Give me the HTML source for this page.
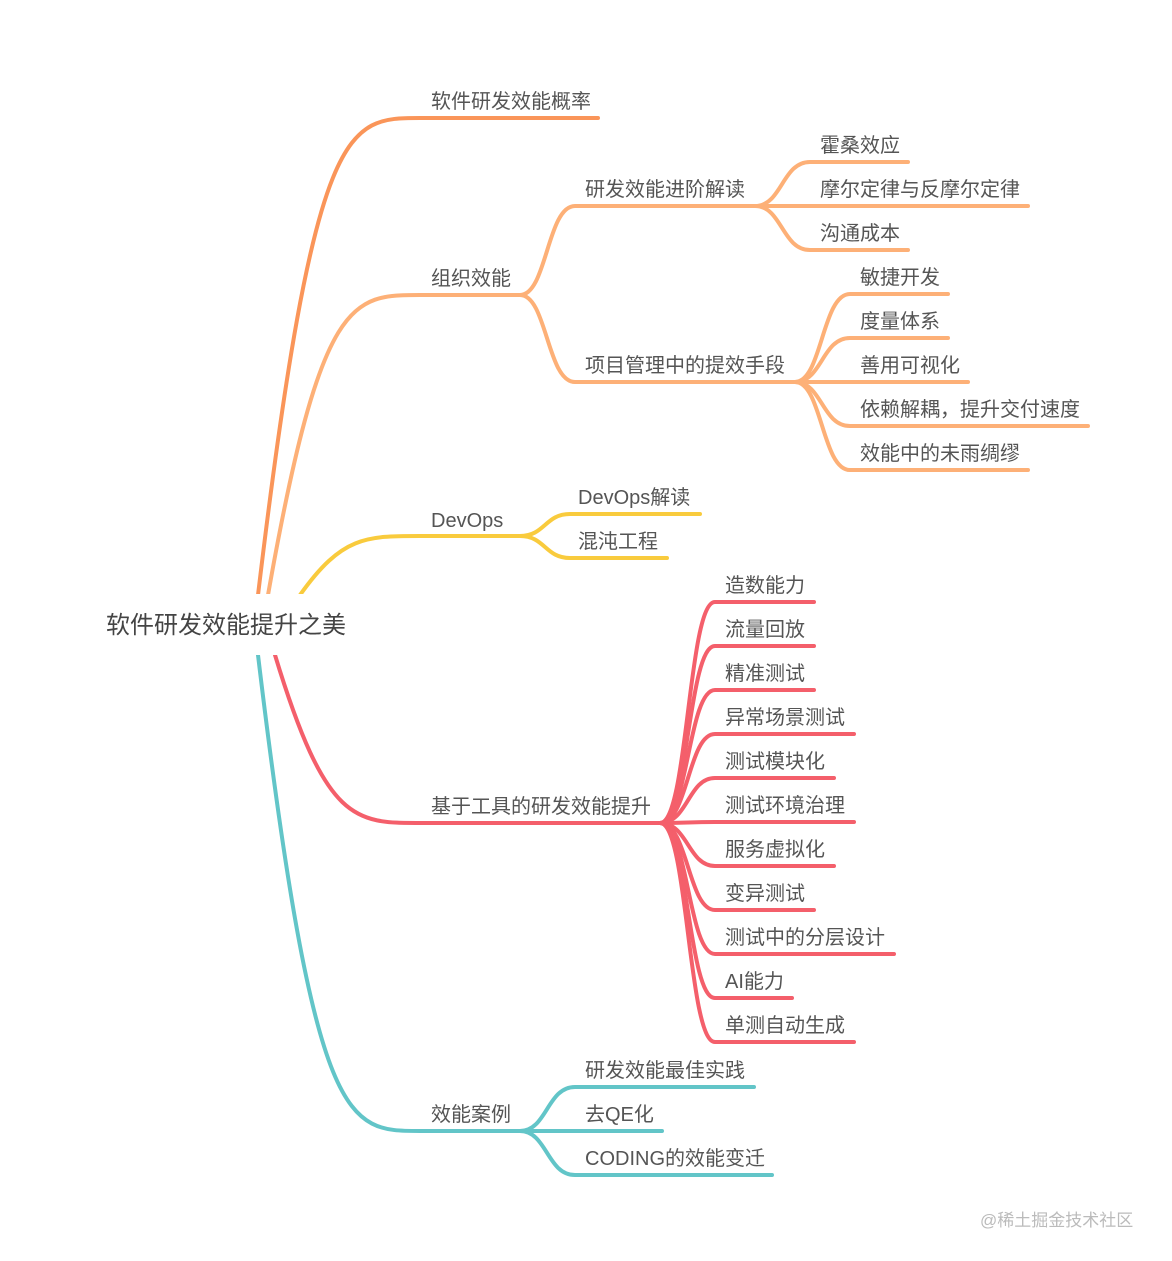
<!DOCTYPE html>
<html><head><meta charset="utf-8"><style>
html,body{margin:0;padding:0;background:#fff;}
svg{display:block}
text{font-family:"Liberation Sans","Noto Sans CJK SC",sans-serif;font-size:20px;fill:#555;}
</style></head><body>
<svg width="1172" height="1261" viewBox="0 0 1172 1261" xmlns="http://www.w3.org/2000/svg">
<g fill="none" stroke-width="4" stroke-linecap="round">
<path stroke="#FA9559" d="M258 595 C315 118 347 118 420 118 L598 118"/>
<path stroke="#FDB077" d="M268 595 C321 295 352 295 420 295 L520 295"/>
<path stroke="#F9CB3D" d="M300 595 C342 536 366 536 420 536 L520 536"/>
<path stroke="#F45F6B" d="M275 655 C326 823 355 823 420 823 L660 823"/>
<path stroke="#62C5C8" d="M258 655 C315 1131 347 1131 420 1131 L520 1131"/>
<g stroke="#FDB077">
<path d="M520 295 C547 295 547 206 575 206 L755 206"/>
<path d="M520 295 C547 295 547 382 575 382 L795 382"/>
<path d="M755 206 C782 206 782 162 810 162 L908 162"/>
<path d="M755 206 L1028 206"/>
<path d="M755 206 C782 206 782 250 810 250 L908 250"/>
<path d="M795 382 C822 382 822 294 850 294 L948 294"/>
<path d="M795 382 C822 382 822 338 850 338 L948 338"/>
<path d="M795 382 L968 382"/>
<path d="M795 382 C822 382 822 426 850 426 L1088 426"/>
<path d="M795 382 C822 382 822 470 850 470 L1028 470"/>
</g>
<g stroke="#F9CB3D">
<path d="M520 536 C545 536 545 514 570 514 L700 514"/>
<path d="M520 536 C545 536 545 558 570 558 L667 558"/>
</g>
<g stroke="#F45F6B">
<path d="M660 823 C688 823 688 602 715 602 L814 602"/>
<path d="M660 823 C688 823 688 646 715 646 L814 646"/>
<path d="M660 823 C688 823 688 690 715 690 L814 690"/>
<path d="M660 823 C688 823 688 734 715 734 L854 734"/>
<path d="M660 823 C688 823 688 778 715 778 L834 778"/>
<path d="M660 823 C688 823 688 822 715 822 L854 822"/>
<path d="M660 823 C688 823 688 866 715 866 L834 866"/>
<path d="M660 823 C688 823 688 910 715 910 L814 910"/>
<path d="M660 823 C688 823 688 954 715 954 L894 954"/>
<path d="M660 823 C688 823 688 998 715 998 L792 998"/>
<path d="M660 823 C688 823 688 1042 715 1042 L854 1042"/>
</g>
<g stroke="#62C5C8">
<path d="M520 1131 C547 1131 547 1087 575 1087 L754 1087"/>
<path d="M520 1131 L662 1131"/>
<path d="M520 1131 C547 1131 547 1175 575 1175 L772 1175"/>
</g>
</g>
<rect x="80" y="594" width="265" height="61" fill="#fff"/>
<text x="106" y="633" style="font-size:24px;fill:#444">软件研发效能提升之美</text>
<text x="431" y="108">软件研发效能概率</text>
<text x="431" y="285">组织效能</text>
<text x="431" y="527">DevOps</text>
<text x="431" y="813">基于工具的研发效能提升</text>
<text x="431" y="1121">效能案例</text>
<text x="585" y="196">研发效能进阶解读</text>
<text x="585" y="372">项目管理中的提效手段</text>
<text x="820" y="152">霍桑效应</text>
<text x="820" y="196">摩尔定律与反摩尔定律</text>
<text x="820" y="240">沟通成本</text>
<text x="860" y="284">敏捷开发</text>
<text x="860" y="328">度量体系</text>
<text x="860" y="372">善用可视化</text>
<text x="860" y="416">依赖解耦，提升交付速度</text>
<text x="860" y="460">效能中的未雨绸缪</text>
<text x="578" y="504">DevOps解读</text>
<text x="578" y="548">混沌工程</text>
<text x="725" y="592">造数能力</text>
<text x="725" y="636">流量回放</text>
<text x="725" y="680">精准测试</text>
<text x="725" y="724">异常场景测试</text>
<text x="725" y="768">测试模块化</text>
<text x="725" y="812">测试环境治理</text>
<text x="725" y="856">服务虚拟化</text>
<text x="725" y="900">变异测试</text>
<text x="725" y="944">测试中的分层设计</text>
<text x="725" y="988">AI能力</text>
<text x="725" y="1032">单测自动生成</text>
<text x="585" y="1077">研发效能最佳实践</text>
<text x="585" y="1121">去QE化</text>
<text x="585" y="1165">CODING的效能变迁</text>
<text x="980" y="1226" style="font-size:17px;fill:#bbb">@稀土掘金技术社区</text>
</svg>
</body></html>
